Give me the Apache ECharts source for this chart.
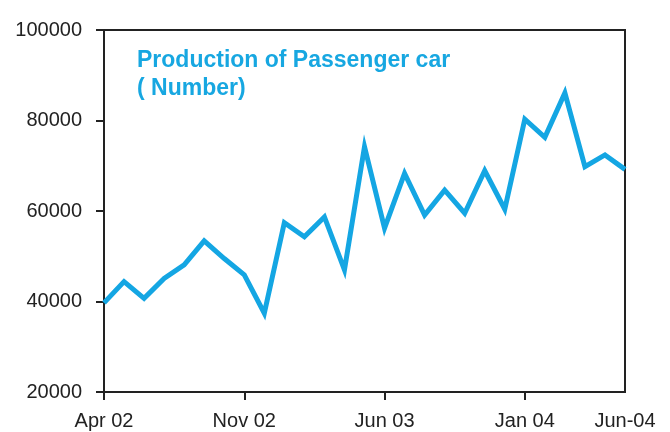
<!DOCTYPE html>
<html>
<head>
<meta charset="utf-8">
<script src="https://cdn.jsdelivr.net/npm/echarts@6/dist/echarts.min.js"></script>
<style>html,body{margin:0;padding:0;background:#fff;}#c{width:670px;height:432px;}</style>
</head>
<body>
<div id="c"></div>
<script>
const months = ['Apr 02','May 02','Jun 02','Jul 02','Aug 02','Sep 02','Oct 02','Nov 02','Dec 02',
  'Jan 03','Feb 03','Mar 03','Apr 03','May 03','Jun 03','Jul 03','Aug 03','Sep 03','Oct 03','Nov 03','Dec 03',
  'Jan 04','Feb 04','Mar 04','Apr 04','May 04','Jun-04'];
const production = [39700,44400,40700,45100,48100,53400,49500,45900,37400,
  57400,54300,58700,47000,74200,56200,68300,59100,64600,59500,68900,60400,
  80300,76300,86100,69800,72400,69200];
const labelIdx = [0,7,14,21,26];
const titleText = 'Production of Passenger car\n( Number)';

const chart = echarts.init(document.getElementById('c'));
chart.setOption({
  animation:false,
  title:{text:titleText,left:137,top:47,padding:0,textStyle:{fontFamily:'Liberation Sans, Arial',fontSize:23,fontWeight:'bold',color:'#17a7e1',lineHeight:28}},
  grid:{left:104,top:30,right:45,bottom:40,show:true,borderColor:'#222',borderWidth:2,backgroundColor:'transparent'},
  xAxis:{type:'category',data:months,boundaryGap:false,
    axisLine:{lineStyle:{color:'#222',width:2}},
    axisTick:{length:8,lineStyle:{color:'#222',width:2},interval:(i)=>[0,7,14,21].includes(i)},
    axisLabel:{interval:(i)=>labelIdx.includes(i),margin:19,color:'#222',fontFamily:'Liberation Sans, Arial',fontSize:20,showMaxLabel:true},
    splitLine:{show:false}},
  yAxis:{type:'value',min:20000,max:100000,interval:20000,
    axisLine:{show:true,lineStyle:{color:'#222',width:2}},
    axisTick:{show:true,length:8,lineStyle:{color:'#222',width:2}},
    axisLabel:{margin:22,color:'#222',fontFamily:'Liberation Sans, Arial',fontSize:20,formatter:(v)=>String(v)},
    splitLine:{show:false}},
  series:[{type:'line',data:production,showSymbol:false,symbol:'none',lineStyle:{color:'#14a6e3',width:5,join:'miter'}}]
});
</script>
</body>
</html>
